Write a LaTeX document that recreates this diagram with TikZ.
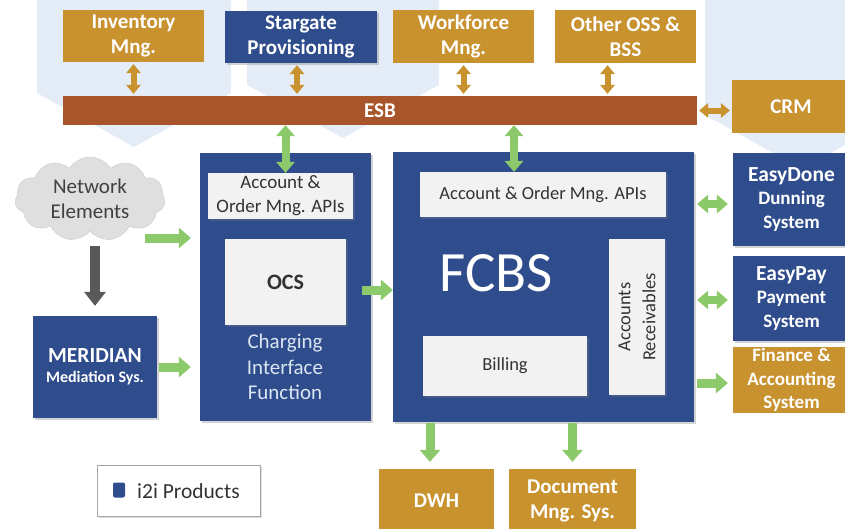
\documentclass[tikz,border=0pt]{standalone}
\usepackage{fontspec}
\setmainfont{Carlito}
\usetikzlibrary{shapes.symbols,arrows.meta,shadows,calc}
\definecolor{gold}{HTML}{C8922F}
\definecolor{ibl}{HTML}{2F4C8C}
\definecolor{esbc}{HTML}{A9552B}
\definecolor{grn}{HTML}{8CC96B}
\definecolor{bgb}{HTML}{E4ECF7}
\definecolor{wfill}{HTML}{F2F2F2}
\definecolor{cifc}{HTML}{DCE6F2}
\newcommand{\fsz}[2]{\fontsize{#1}{#2}\selectfont}
\begin{document}
\begin{tikzpicture}[x=1pt,y=-1pt,
  box/.style={rectangle, inner sep=0pt, align=center, text=white, font=\bfseries\fsz{21}{25}},
  goldbox/.style={box, fill=gold},
  bluebox/.style={box, fill=ibl, drop shadow={opacity=0.35, shadow xshift=2pt, shadow yshift=-2pt}},
  whitebox/.style={rectangle, inner sep=0pt, align=center, fill=wfill, text=black!80, font=\fsz{19}{24},
     drop shadow={opacity=0.3, shadow xshift=2pt, shadow yshift=-2pt}},
  goldarr/.style={draw=gold, line width=6pt, {Triangle[length=9pt,width=15pt,line width=0pt]}-{Triangle[length=9pt,width=15pt,line width=0pt]}, shorten <=2pt, shorten >=2pt},
  garr/.style={draw=grn, line width=9pt, -{Triangle[length=12pt,width=21pt,line width=0pt]}},
  garrd/.style={draw=grn, line width=8pt, {Triangle[length=11pt,width=19pt,line width=0pt]}-{Triangle[length=11pt,width=19pt,line width=0pt]}},
  darkarr/.style={draw=black!65, line width=10pt, -{Triangle[length=14pt,width=22pt,line width=0pt]}}
]
\useasboundingbox (0,0) rectangle (845,528);
\begin{scope}
\clip (0,0) rectangle (845,528);
\fill[bgb] (37,0) -- (231,0) -- (231,93) -- (134,147) -- (37,93) -- cycle;
\fill[bgb] (247,0) -- (439,0) -- (439,85) -- (343,138) -- (247,85) -- cycle;
\fill[bgb] (705,0) -- (899,0) -- (899,115) -- (802,169) -- (705,115) -- cycle;

% top row
\node[goldbox, minimum width=141, minimum height=52] (inv) at (133.5,36) {Inventory\\Mng.};
\node[bluebox, minimum width=152, minimum height=52] (sg) at (301,37) {Stargate\\Provisioning};
\node[goldbox, minimum width=141, minimum height=53] (wf) at (463.5,36.5) {Workforce\\Mng.};
\node[goldbox, minimum width=141, minimum height=53] (oss) at (625.5,36.5) {Other OSS \&\\BSS};
\node[box, fill=esbc, minimum width=634, minimum height=29] (esb) at (380,110.5) {ESB};
\node[goldbox, minimum width=118, minimum height=53] (crm) at (791,106.5) {CRM};

% charging interface function
\node[bluebox, minimum width=171, minimum height=268] (cif) at (285.5,287) {};
\node[whitebox, minimum width=145, minimum height=46] (cifapi) at (280.5,196) {Account \&\\Order Mng. APIs};
\node[whitebox, minimum width=121, minimum height=86, font=\bfseries\fsz{22}{26}] (ocs) at (285.5,282) {OCS};
\node[align=center, text=cifc, font=\fsz{21}{25.5}, inner sep=0pt] (ciftxt) at (285,367) {Charging\\Interface\\Function};

% network elements and mediation
\node[cloud, cloud puffs=11, cloud puff arc=115, aspect=1.8, minimum width=150, minimum height=84, fill=gray!25, draw=gray!40, text=black!75, align=center, font=\fsz{21}{25}, inner sep=0pt] (ne) at (90,199) {Network\\Elements};
\node[bluebox, minimum width=124, minimum height=102, font=\bfseries\fsz{16}{20}] (mer) at (95,367) {{\fsz{21.5}{23}MERIDIAN}\\Mediation Sys.};

% FCBS
\node[bluebox, minimum width=301, minimum height=270] (fcbs) at (543.5,287) {};
\node[whitebox, minimum width=246, minimum height=45, font=\fsz{18.5}{23}] (fapi) at (543,194.5) {Account \& Order Mng. APIs};
\node[text=white, font=\fsz{57}{60}, inner sep=0pt] (fcbstxt) at (496,273) {FCBS};
\node[whitebox, minimum width=156, minimum height=56, rotate=90, font=\fsz{18.5}{25}] (ar) at (637,317) {Accounts\\Receivables};
\node[whitebox, minimum width=164, minimum height=60, font=\fsz{18.5}{23}] (bill) at (505,366) {Billing};

% right column
\node[bluebox, minimum width=117, minimum height=93, font=\bfseries\fsz{19}{23.5}] (edone) at (791.5,199.5) {{\fsz{21.5}{23.5}EasyDone}\\Dunning\\System};
\node[bluebox, minimum width=117, minimum height=85, font=\bfseries\fsz{19}{23.5}] (epay) at (791.5,298.5) {{\fsz{21.5}{23.5}EasyPay}\\Payment\\System};
\node[goldbox, minimum width=117, minimum height=66, font=\bfseries\fsz{19}{23.5}] (fin) at (791.5,380) {Finance \&\\Accounting\\System};

% bottom
\node[goldbox, minimum width=115, minimum height=64] (dwh) at (436.5,501) {DWH};
\node[goldbox, minimum width=127, minimum height=64] (doc) at (572.5,501) {Document\\Mng. Sys.};

% legend
\node[rectangle, draw=gray!70, fill=white, minimum width=163, minimum height=51, inner sep=0pt,
      drop shadow={opacity=0.25, shadow xshift=2pt, shadow yshift=-2pt}] (leg) at (178.5,490.5) {};
\node[rectangle, rounded corners=2pt, fill=ibl, minimum width=12, minimum height=15, inner sep=0pt] (legsq) at (119,490) {};
\node[anchor=west, font=\fsz{21.5}{24}, text=black!80, inner sep=0pt] (legtxt) at (137,491) {i2i Products};

% connectors: gold
\draw[goldarr] (inv.south) -- (inv.south |- esb.north);
\draw[goldarr] ([xshift=-4pt]sg.south) -- ([xshift=-4pt]sg.south |- esb.north);
\draw[goldarr] (wf.south) -- (wf.south |- esb.north);
\draw[goldarr] ([xshift=-18pt]oss.south) -- ([xshift=-18pt]oss.south |- esb.north);
\draw[goldarr] (esb.east) -- (esb.east -| crm.west);

% connectors: green
\draw[garrd] (cif.north |- esb.south) -- (cif.north |- cifapi.north);
\draw[garrd] ([xshift=-29.5pt]fcbs.north |- esb.south) -- ([xshift=-29.5pt]fcbs.north |- fapi.north);
\coordinate (nestart) at (145,238);
\draw[garr, shorten >=9pt] (nestart) -- (nestart -| cif.west);
\draw[darkarr, shorten <=15pt, shorten >=10pt] (ne.south -| mer.north) -- (mer.north);
\draw[garr, shorten <=2pt, shorten >=9pt] (mer.east) -- (mer.east -| cif.west);
\draw[garr] ([xshift=-9pt,yshift=-3pt]cif.east) -- ([yshift=-3pt]cif.east -| fcbs.west);
\draw[garrd, shorten <=3pt, shorten >=5pt] ([yshift=-4.5pt]fcbs.east |- edone.west) -- ([yshift=-4.5pt]edone.west);
\draw[garrd, shorten <=3pt, shorten >=5pt] ([yshift=-1.5pt]fcbs.east |- epay.west) -- ([yshift=-1.5pt]epay.west);
\draw[garr, shorten <=3pt, shorten >=5pt] ([yshift=-3pt]fcbs.east |- fin.west) -- ([yshift=-3pt]fin.west);
\draw[garr, shorten <=1pt, shorten >=7pt] ([xshift=-6.5pt]dwh.north |- fcbs.south) -- ([xshift=-6.5pt]dwh.north);
\draw[garr, shorten <=1pt, shorten >=7pt] (doc.north |- fcbs.south) -- (doc.north);
\end{scope}
\end{tikzpicture}
\end{document}
